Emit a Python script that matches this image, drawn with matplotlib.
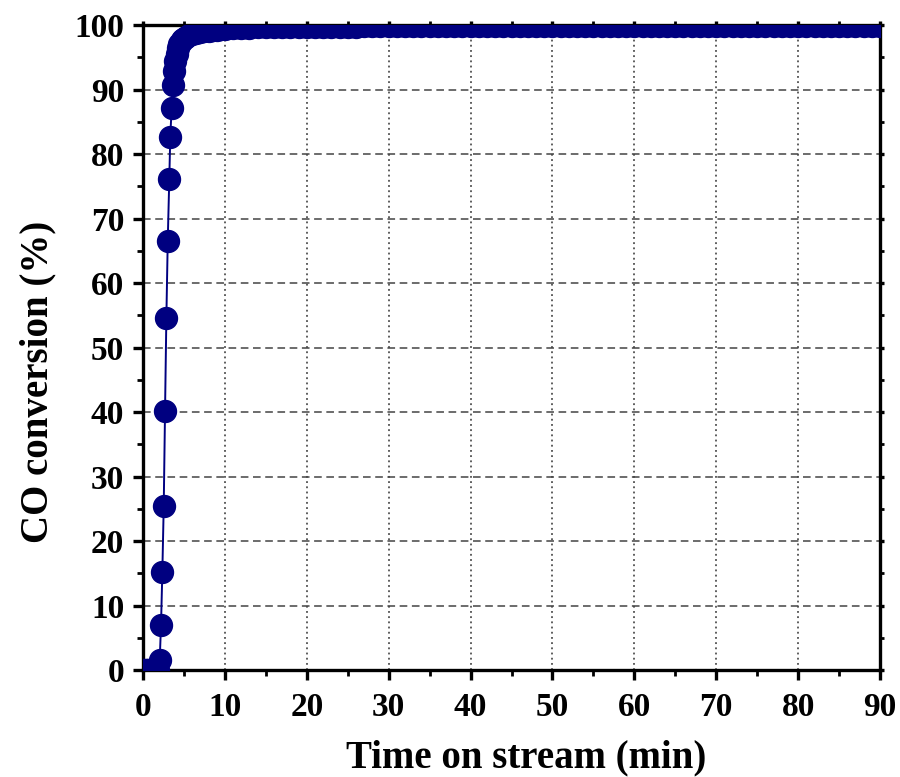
import numpy as np
import matplotlib.pyplot as plt
from matplotlib.ticker import MultipleLocator

# Readings from the chart: CO conversion (%) vs. time on stream (min)
time_start = [0.0, 0.16, 0.32, 0.48, 0.64, 0.80, 0.96, 1.12, 1.28, 1.44, 1.60, 1.76, 1.88]
conv_start = [0.0, 0.0, 0.0, 0.0, 0.0, 0.0, 0.0, 0.0, 0.0, 0.0, 0.0, 0.0, 0.0]

time_rise = [2.04, 2.20, 2.36, 2.53, 2.69, 2.85, 3.02, 3.21, 3.33, 3.50, 3.63,
             3.79, 3.95, 4.11, 4.27, 4.43, 4.59, 4.75, 4.91, 5.07, 5.30, 5.60,
             6.0, 6.5, 7.0, 7.5, 8.0, 8.5, 9.0, 9.5, 10.0, 11.0, 12.0, 13.0,
             14.0, 15.0]
conv_rise = [1.6, 7.0, 15.2, 25.4, 40.2, 54.5, 66.5, 76.2, 82.7, 87.2, 90.7,
             92.8, 94.4, 95.5, 96.4, 97.0, 97.4, 97.7, 97.9, 98.05, 98.2, 98.4,
             98.55, 98.7, 98.85, 99.0, 99.1, 99.2, 99.3, 99.35, 99.4, 99.5, 99.55, 99.6,
             99.65, 99.7]

time_plateau = list(range(16, 91))
conv_plateau = [99.7, 99.7, 99.72, 99.72, 99.75, 99.75, 99.75, 99.76, 99.76, 99.77,
                99.77, 99.78, 99.78, 99.78, 99.78, 99.79, 99.79, 99.79, 99.8, 99.8,
                99.8, 99.8, 99.8, 99.8, 99.8, 99.8, 99.8, 99.8, 99.8, 99.8,
                99.8, 99.8, 99.8, 99.8, 99.8, 99.8, 99.8, 99.8, 99.8, 99.8,
                99.8, 99.8, 99.8, 99.8, 99.8, 99.8, 99.8, 99.8, 99.8, 99.8,
                99.8, 99.8, 99.8, 99.8, 99.8, 99.8, 99.8, 99.8, 99.8, 99.8,
                99.8, 99.8, 99.8, 99.8, 99.8, 99.8, 99.8, 99.8, 99.8, 99.8,
                99.8, 99.8, 99.8, 99.8, 99.8]

time = time_start + time_rise + time_plateau
conversion = conv_start + conv_rise + conv_plateau

plt.rcParams['font.family'] = ['Liberation Serif', 'DejaVu Serif']
plt.rcParams['font.weight'] = 'bold'

fig = plt.figure(figsize=(9, 7.77), dpi=100)
ax = fig.add_axes([0.1589, 0.1377, 0.8189, 0.8301])

navy = '#000080'
ax.plot(time, conversion, color=navy, linewidth=1.4, marker='o',
        markersize=15.8, markerfacecolor=navy, markeredgecolor=navy, zorder=3)

ax.set_xlim(0, 90)
ax.set_ylim(0, 100)
ax.xaxis.set_major_locator(MultipleLocator(10))
ax.xaxis.set_minor_locator(MultipleLocator(5))
ax.yaxis.set_major_locator(MultipleLocator(10))
ax.yaxis.set_minor_locator(MultipleLocator(5))

ax.grid(axis='y', which='major', linestyle=(0, (5, 3)), color='#444444', linewidth=1.1)
ax.grid(axis='x', which='major', linestyle=(0, (1.2, 2.2)), color='#333333', linewidth=1.1)
ax.set_axisbelow(True)

for sp in ax.spines.values():
    sp.set_linewidth(2.4)

ax.tick_params(axis='both', which='major', direction='out', length=7.5, width=2.4,
               labelsize=24)
ax.tick_params(axis='x', which='major', pad=8)
ax.tick_params(axis='y', which='major', pad=6)
ax.tick_params(axis='both', which='minor', direction='out', length=4, width=2.0)
ax.tick_params(top=True, right=True, which='both')
for t in ax.xaxis.get_major_ticks() + ax.yaxis.get_major_ticks():
    t.tick2line.set_markersize(3)
for t in ax.xaxis.get_minor_ticks() + ax.yaxis.get_minor_ticks():
    t.tick2line.set_markersize(3)

for lab in ax.get_xticklabels() + ax.get_yticklabels():
    lab.set_fontweight('bold')

ax.set_xlabel('Time on stream (min)', fontsize=28, fontweight='bold')
ax.set_ylabel('CO conversion (%)', fontsize=28, fontweight='bold')
ax.xaxis.set_label_coords(0.52, -0.107)
ax.yaxis.set_label_coords(-0.117, 0.447)

fig.savefig('out.png', dpi=100)
